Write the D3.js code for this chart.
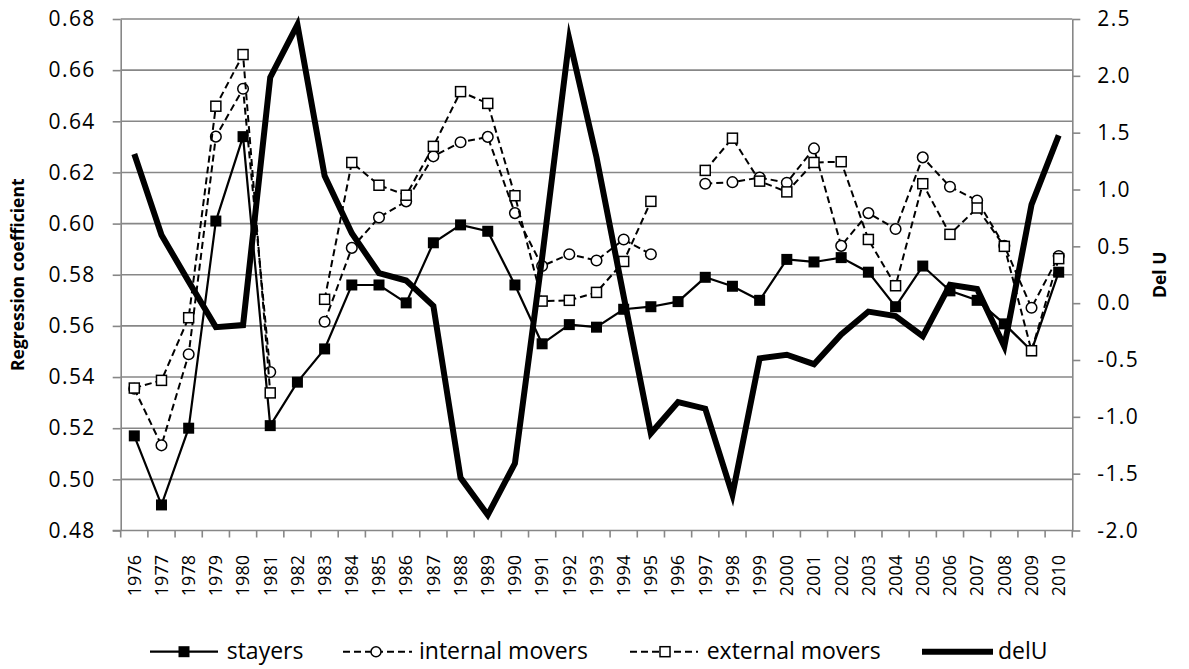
<!DOCTYPE html>
<html>
<head>
<meta charset="utf-8">
<script src="https://cdn.jsdelivr.net/npm/d3@7"></script>
<style>
  html, body { margin: 0; padding: 0; background: #fff; }
  svg { display: block; }
</style>
</head>
<body>
<svg id="chart" width="1189" height="669"></svg>
<script>
const years = ["1976","1977","1978","1979","1980","1981","1982","1983","1984","1985","1986","1987","1988","1989","1990","1991","1992","1993","1994","1995","1996","1997","1998","1999","2000","2001","2002","2003","2004","2005","2006","2007","2008","2009","2010"];
const stayers = [0.517,0.490,0.520,0.601,0.634,0.521,0.538,0.551,0.576,0.576,0.569,0.5925,0.5995,0.597,0.576,0.553,0.5605,0.5595,0.5665,0.5675,0.5695,0.579,0.5755,0.570,0.586,0.585,0.5867,0.581,0.5675,0.5834,0.5737,0.570,0.5608,0.5503,0.581];
const internalMovers = [0.5354,0.5133,0.5489,0.634,0.6527,0.542,null,0.5616,0.5905,0.6024,0.6087,0.6263,0.6318,0.6339,0.6041,0.5834,0.588,0.5856,0.5938,0.588,null,0.6156,0.6162,0.618,0.616,0.6294,0.5913,0.6041,0.5979,0.6259,0.6144,0.609,0.5913,0.5671,0.5873];
const externalMovers = [0.5357,0.5387,0.5632,0.6459,0.6661,0.5338,null,0.5704,0.6239,0.615,0.6111,0.6302,0.6516,0.647,0.6109,0.5697,0.570,0.5731,0.5852,0.6087,null,0.6208,0.6334,0.6166,0.6124,0.6239,0.6242,0.5938,0.5757,0.6156,0.5958,0.6061,0.5911,0.5503,0.5863];
const delU = [1.312,0.600,0.19,-0.211,-0.193,1.986,2.449,1.12,0.615,0.265,0.199,-0.024,-1.537,-1.863,-1.409,0.40,2.322,1.283,0.06,-1.145,-0.870,-0.928,-1.685,-0.486,-0.454,-0.537,-0.276,-0.074,-0.113,-0.291,0.161,0.125,-0.380,0.867,1.476];
const leftTicks = [0.48,0.50,0.52,0.54,0.56,0.58,0.60,0.62,0.64,0.66,0.68];
const rightTicks = [-2.0,-1.5,-1.0,-0.5,0.0,0.5,1.0,1.5,2.0,2.5];
const legendLabels = ["stayers","internal movers","external movers","delU"];
const leftTitle = "Regression coefficient";
const rightTitle = "Del U";

const L = 120.7, R = 1072.3, T = 19, B = 530.5;
const grey = "#878787";
const svg = d3.select("#chart");

const x = d3.scaleBand().domain(years).range([L, R]).padding(0);
const yL = d3.scaleLinear().domain([0.48, 0.68]).range([B, T]);
const yR = d3.scaleLinear().domain([-2.0, 2.5]).range([B, T]);
const cx = d => x(d) + x.bandwidth() / 2;

// gridlines
svg.append("g").selectAll("line").data(leftTicks.filter(v => v > 0.48)).join("line")
  .attr("x1", L).attr("x2", R)
  .attr("y1", d => yL(d)).attr("y2", d => yL(d))
  .attr("stroke", grey).attr("stroke-width", 1.6);

// left axis
const gL = svg.append("g").attr("transform", `translate(${L},0)`)
  .call(d3.axisLeft(yL).tickValues(leftTicks).tickSize(8).tickSizeOuter(0).tickPadding(17)
    .tickFormat(d => d.toFixed(2)));
gL.select(".domain").attr("stroke", grey).attr("stroke-width", 1.6);
gL.selectAll(".tick line").attr("stroke", grey).attr("stroke-width", 1.6);
gL.selectAll(".tick text").attr("fill", "#000").style("font-family", "'Open Sans'")
  .style("font-size", "21px").style("letter-spacing", "1.4px");

// right axis
const gR = svg.append("g").attr("transform", `translate(${R},0)`)
  .call(d3.axisRight(yR).tickValues(rightTicks).tickSize(8).tickSizeOuter(0).tickPadding(17)
    .tickFormat(d => d.toFixed(1)));
gR.select(".domain").attr("stroke", grey).attr("stroke-width", 1.6);
gR.selectAll(".tick line").attr("stroke", grey).attr("stroke-width", 1.6);
gR.selectAll(".tick text").attr("fill", "#000").style("font-family", "'Open Sans'")
  .style("font-size", "21px").style("letter-spacing", "1.4px");

// bottom axis
const gB = svg.append("g");
gB.append("line").attr("x1", L - 8).attr("x2", R).attr("y1", B).attr("y2", B)
  .attr("stroke", grey).attr("stroke-width", 1.6);
gB.selectAll("line.tk").data(years.concat(["_end"])).join("line").attr("class", "tk")
  .attr("x1", d => d === "_end" ? R : x(d)).attr("x2", d => d === "_end" ? R : x(d))
  .attr("y1", B).attr("y2", B + 7)
  .attr("stroke", grey).attr("stroke-width", 1.6);
gB.selectAll("text").data(years).join("text")
  .attr("transform", d => `translate(${cx(d)},555) rotate(-90)`)
  .attr("text-anchor", "end").attr("dy", "0.35em")
  .style("font-family", "'Open Sans'").style("font-size", "18px").attr("fill", "#000")
  .text(d => d);

// axis titles
svg.append("text").attr("transform", `translate(24,${(T + B) / 2}) rotate(-90)`)
  .attr("text-anchor", "middle").style("font-family", "'Open Sans'").style("font-weight", "bold")
  .style("font-size", "17.5px").text(leftTitle);
svg.append("text").attr("transform", `translate(1166,${(T + B) / 2}) rotate(-90)`)
  .attr("text-anchor", "middle").style("font-family", "'Open Sans'").style("font-weight", "bold")
  .style("font-size", "17.5px").text(rightTitle);

function series(vals) {
  return years.map((yr, i) => ({ yr, v: vals[i] }));
}
const lineL = d3.line().defined(d => d.v != null).x(d => cx(d.yr)).y(d => yL(d.v));
const lineR = d3.line().defined(d => d.v != null).x(d => cx(d.yr)).y(d => yR(d.v));

// stayers
const sData = series(stayers);
svg.append("path").datum(sData).attr("d", lineL).attr("fill", "none")
  .attr("stroke", "#000").attr("stroke-width", 2.2);
svg.append("g").selectAll("rect").data(sData).join("rect")
  .attr("x", d => cx(d.yr) - 5.5).attr("y", d => yL(d.v) - 5.5)
  .attr("width", 11).attr("height", 11).attr("fill", "#000");

// internal movers
const iData = series(internalMovers);
svg.append("path").datum(iData).attr("d", lineL).attr("fill", "none")
  .attr("stroke", "#000").attr("stroke-width", 2).attr("stroke-dasharray", "7,4");
svg.append("g").selectAll("circle").data(iData.filter(d => d.v != null)).join("circle")
  .attr("cx", d => cx(d.yr)).attr("cy", d => yL(d.v)).attr("r", 5.3)
  .attr("fill", "#fff").attr("stroke", "#000").attr("stroke-width", 1.5);

// external movers
const eData = series(externalMovers);
svg.append("path").datum(eData).attr("d", lineL).attr("fill", "none")
  .attr("stroke", "#000").attr("stroke-width", 2).attr("stroke-dasharray", "7,4");
svg.append("g").selectAll("rect").data(eData.filter(d => d.v != null)).join("rect")
  .attr("x", d => cx(d.yr) - 5).attr("y", d => yL(d.v) - 5)
  .attr("width", 10).attr("height", 10)
  .attr("fill", "#fff").attr("stroke", "#000").attr("stroke-width", 1.5);

// delU
const dData = series(delU);
svg.append("path").datum(dData).attr("d", lineR).attr("fill", "none")
  .attr("stroke", "#000").attr("stroke-width", 6).attr("stroke-linejoin", "miter")
  .attr("stroke-miterlimit", 6);

// legend
const lg = svg.append("g").style("font-family", "'Open Sans'").style("font-size", "23px");
const ly = 651.7, tb = 658.5;
lg.append("line").attr("x1", 150).attr("x2", 218).attr("y1", ly).attr("y2", ly)
  .attr("stroke", "#000").attr("stroke-width", 2.2);
lg.append("rect").attr("x", 184 - 5.5).attr("y", ly - 5.5).attr("width", 11).attr("height", 11).attr("fill", "#000");
lg.append("text").attr("x", 226.7).attr("y", tb).text(legendLabels[0]);
lg.append("line").attr("x1", 343).attr("x2", 412).attr("y1", ly).attr("y2", ly)
  .attr("stroke", "#000").attr("stroke-width", 2).attr("stroke-dasharray", "7,4");
lg.append("circle").attr("cx", 376).attr("cy", ly).attr("r", 5)
  .attr("fill", "#fff").attr("stroke", "#000").attr("stroke-width", 1.5);
lg.append("text").attr("x", 419).attr("y", tb).text(legendLabels[1]);
lg.append("line").attr("x1", 630).attr("x2", 698).attr("y1", ly).attr("y2", ly)
  .attr("stroke", "#000").attr("stroke-width", 2).attr("stroke-dasharray", "7,4");
lg.append("rect").attr("x", 665 - 5).attr("y", ly - 5).attr("width", 10).attr("height", 10)
  .attr("fill", "#fff").attr("stroke", "#000").attr("stroke-width", 1.5);
lg.append("text").attr("x", 706.7).attr("y", tb).text(legendLabels[2]);
lg.append("line").attr("x1", 922).attr("x2", 993).attr("y1", ly).attr("y2", ly)
  .attr("stroke", "#000").attr("stroke-width", 6);
lg.append("text").attr("x", 998).attr("y", tb).text(legendLabels[3]);
</script>
</body>
</html>
